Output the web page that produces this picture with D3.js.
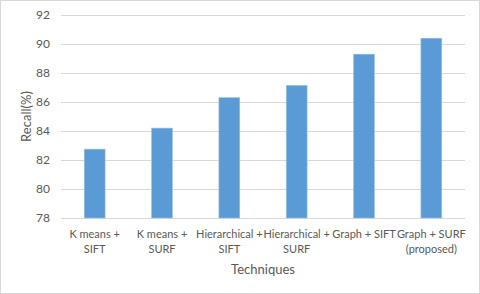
<!DOCTYPE html>
<html>
<head>
<meta charset="utf-8">
<script src="https://cdn.jsdelivr.net/npm/d3@7"></script>
<style>
  body { margin: 0; background: #fff; }
  text { font-family: Lato, "Open Sans", sans-serif; fill: #595959; }
</style>
</head>
<body>
<div id="chart"></div>
<script>
// Recall per technique - vertical bar chart

const techniques = ['K means + SIFT', 'K means + SURF', 'Hierarchical + SIFT', 'Hierarchical + SURF', 'Graph + SIFT', 'Graph + SURF (proposed)'];
const labelLines = [
  ['K means +', 'SIFT'],
  ['K means +', 'SURF'],
  ['Hierarchical +', 'SIFT'],
  ['Hierarchical +', 'SURF'],
  ['Graph + SIFT'],
  ['Graph + SURF', '(proposed)']
];
const recall = [82.75, 84.2, 86.3, 87.15, 89.3, 90.4];
const yTicks = [78, 80, 82, 84, 86, 88, 90, 92];

const W = 480, H = 294;
const margin = { top: 15, right: 15, bottom: 76, left: 61 };
const innerW = W - margin.left - margin.right;
const innerH = H - margin.top - margin.bottom;

const svg = d3.select('#chart').append('svg')
  .attr('width', W)
  .attr('height', H);

svg.append('rect')
  .attr('x', 0.5).attr('y', 0.5)
  .attr('width', W - 1).attr('height', H - 1)
  .attr('fill', '#fff')
  .attr('stroke', '#d9d9d9');

const g = svg.append('g')
  .attr('transform', `translate(${margin.left},${margin.top})`);

const x = d3.scaleBand().domain(techniques).range([0, innerW]).paddingInner(0.69).paddingOuter(0.345);
const y = d3.scaleLinear().domain([78, 92]).range([innerH, 0]);

// gridlines
g.selectAll('.grid')
  .data(yTicks)
  .enter().append('line')
  .attr('x1', 0).attr('x2', innerW)
  .attr('y1', d => Math.round(y(d)) + 0.5)
  .attr('y2', d => Math.round(y(d)) + 0.5)
  .attr('stroke', '#d9d9d9')
  .attr('stroke-width', 1);

const yAxis = g.append('g')
  .call(d3.axisLeft(y).tickValues(yTicks).tickSize(0).tickPadding(11));
yAxis.select('.domain').remove();
yAxis.selectAll('text')
  .attr('font-size', '12px')
  .style('font-family', 'Lato, "Open Sans", sans-serif')
  .attr('fill', '#595959');

g.selectAll('.bar')
  .data(recall)
  .enter().append('rect')
  .attr('x', (d, i) => x(techniques[i]))
  .attr('y', d => y(d))
  .attr('width', x.bandwidth())
  .attr('height', d => innerH - y(d))
  .attr('fill', '#5b9bd5')
  .attr('stroke', '#9dc3e6')
  .attr('stroke-width', 0.6);

// category labels
const cats = g.selectAll('.cat')
  .data(labelLines)
  .enter().append('text')
  .attr('text-anchor', 'middle')
  .attr('font-size', '11px')
  .attr('transform', (d, i) => `translate(${x(techniques[i]) + x.bandwidth() / 2},${innerH + 20})`);

cats.selectAll('tspan')
  .data(d => d)
  .enter().append('tspan')
  .attr('x', 0)
  .attr('dy', (d, i) => i === 0 ? 0 : 15)
  .text(d => d);

svg.append('text')
  .attr('x', margin.left + innerW / 2)
  .attr('y', 274)
  .attr('text-anchor', 'middle')
  .attr('font-size', '13px')
  .text('Techniques');

svg.append('text')
  .attr('transform', `translate(31,${margin.top + innerH / 2}) rotate(-90)`)
  .attr('text-anchor', 'middle')
  .attr('font-size', '13px')
  .text('Recall(%)');
</script>
</body>
</html>
